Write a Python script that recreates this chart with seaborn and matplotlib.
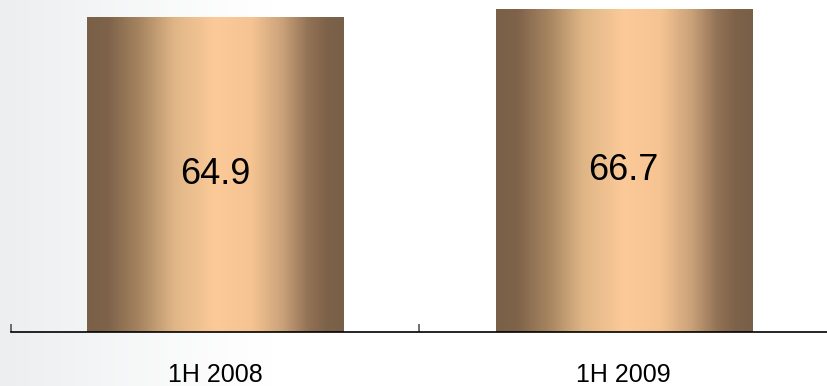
import numpy as np
import pandas as pd
import matplotlib
matplotlib.use("Agg")
import matplotlib.pyplot as plt
from matplotlib.colors import LinearSegmentedColormap
from matplotlib import font_manager
import seaborn as sns

# Half-year values
periods = ["1H 2008", "1H 2009"]
values = [64.9, 66.7]

sns.set_theme(style="white")
names = {f.name for f in font_manager.fontManager.ttflist}
family = ["Liberation Sans Narrow", "Liberation Sans", "DejaVu Sans"]
family = [f for f in family if f in names] or ["DejaVu Sans"]
plt.rcParams["font.family"] = family

fig = plt.figure(figsize=(8.28, 3.86), dpi=100)

# soft grey wash behind the left part of the slide
bg = fig.add_axes([0, 0, 1, 1], zorder=-10)
xs = np.linspace(0, 1, 400)
wash = np.clip(1 - xs / 0.33, 0, 1) ** 1.2
bg_cmap = LinearSegmentedColormap.from_list("wash", ["#ffffff", "#eceeef"])
bg.imshow(wash[None, :], aspect="auto", cmap=bg_cmap, vmin=0, vmax=1,
          extent=[0, 1, 0, 1])
bg.set_axis_off()

ax = fig.add_axes([11 / 828, 54 / 386, 1 - 11 / 828, 332 / 386])
ax.patch.set_alpha(0)

df = pd.DataFrame({"period": periods, "value": values})
sns.barplot(data=df, x="period", y="value", ax=ax, width=0.627,
            color="#c8a27a", saturation=1, errorbar=None)

# metallic cylinder shading across each bar
bar_cmap = LinearSegmentedColormap.from_list(
    "bronze",
    [(0.00, "#7a6048"), (0.08, "#7e634a"), (0.20, "#a4835f"),
     (0.34, "#e0b687"), (0.50, "#fcca98"), (0.64, "#f5c492"),
     (0.76, "#cba27a"), (0.86, "#937356"), (0.93, "#7e634a"),
     (1.00, "#785f47")])
grad = np.linspace(0, 1, 256)[None, :]
for bar, v in zip(ax.patches, values):
    x0, w = bar.get_x(), bar.get_width()
    ax.imshow(grad, aspect="auto", cmap=bar_cmap,
              extent=[x0, x0 + w, 0, bar.get_height()], zorder=2)
    bar.set_alpha(0)
    ax.text(x0 + w / 2, bar.get_height() / 2, f"{v:.1f}", ha="center",
            va="center", fontsize=26, color="black", zorder=3)

ax.set_xlim(-0.5, 1.5)
ax.set_ylim(0, 68.6)
ax.set_xlabel("")
ax.set_ylabel("")
ax.set_yticks([])
for s in ["top", "right", "left"]:
    ax.spines[s].set_visible(False)
ax.spines["bottom"].set_color("black")
ax.spines["bottom"].set_linewidth(1.2)

ax.tick_params(axis="x", which="major", bottom=False, length=0, pad=22,
               labelsize=18, labelcolor="black")
ax.set_xticks([-0.5, 0.5], minor=True)
ax.tick_params(axis="x", which="minor", bottom=True, direction="in",
               length=6, width=1.2, color="#555555")

fig.savefig("out.png", dpi=100)
